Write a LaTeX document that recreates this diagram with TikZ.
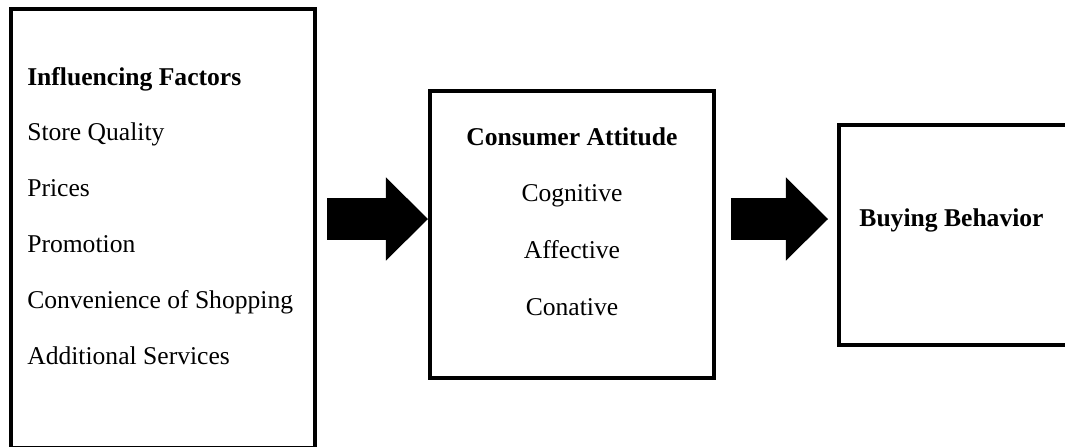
\documentclass[tikz,border=0pt]{standalone}
\usepackage{fontspec}
\setmainfont{Liberation Serif}
\usetikzlibrary{arrows.meta}

\tikzset{
  frame/.style={draw=black, line width=0.1cm, inner sep=0pt, anchor=north west},
  itemtext/.style={font={\fontsize{18.2}{22}\selectfont}, inner sep=0pt},
  headtext/.style={font={\fontsize{18.2}{22}\selectfont\bfseries}, inner sep=0pt},
  fatarrow/.style={line width=1.025cm,
    -{Triangle[length=1.05cm, width=2.075cm, line width=0pt]}}
}

\begin{document}
\begin{tikzpicture}[x=0.025cm, y=-0.025cm]

\clip (0,0) rectangle (1065,447);


\node [frame, minimum width=7.6cm, minimum height=10.975cm] (factors) at (9,7) {};

\node [frame, minimum width=7.1cm, minimum height=7.175cm] (attitude) at (428,89) {};

\node [frame, minimum width=5.725cm, minimum height=5.5cm] (behavior) at (837,123) {};


\node [headtext, anchor=base west] (factors-title) at (27,85) {Influencing Factors};
\node [itemtext, anchor=base west] (quality) at (27,140.8) {Store Quality};
\node [itemtext, anchor=base west] (prices) at (27,196.6) {Prices};
\node [itemtext, anchor=base west] (promotion) at (27,252.4) {Promotion};
\node [itemtext, anchor=base west] (convenience) at (27,308.2) {Convenience of Shopping};
\node [itemtext, anchor=base west] (services) at (27,364) {Additional Services};


\node [headtext, anchor=base] (attitude-title) at (572,145) {Consumer Attitude};
\node [itemtext, anchor=base] (cognitive) at (572,201.7) {Cognitive};
\node [itemtext, anchor=base] (affective) at (572,258.3) {Affective};
\node [itemtext, anchor=base] (conative) at (572,315) {Conative};


\node [headtext, anchor=base] (behavior-title) at (951.5,226.7) {Buying Behavior};


\coordinate (a1) at (327,219);
\coordinate (a2) at (731,219);

\draw [fatarrow] (a1) -- (a1 -| attitude.west);
\draw [fatarrow, shorten >=0.225cm] (a2) -- (a2 -| behavior.west);

\end{tikzpicture}
\end{document}
